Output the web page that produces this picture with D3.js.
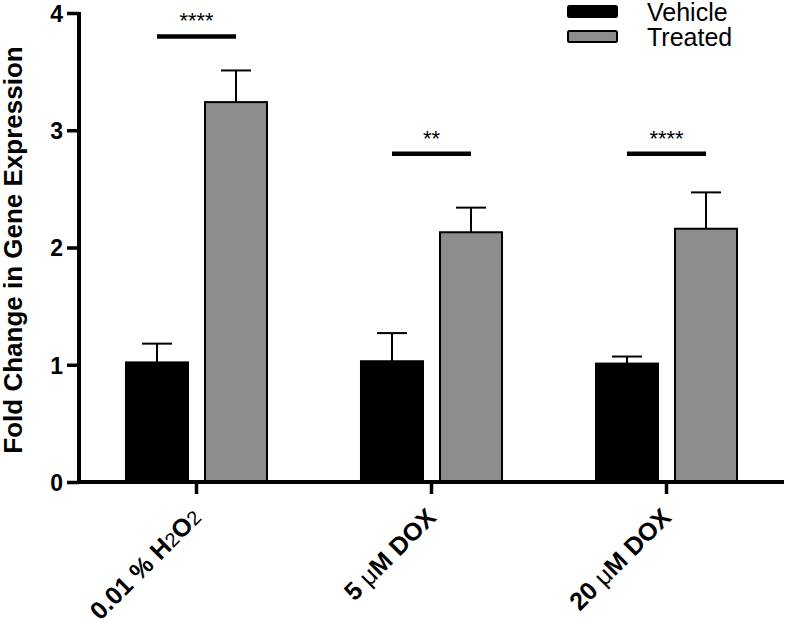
<!DOCTYPE html>
<html><head><meta charset="utf-8">
<script src="https://cdn.jsdelivr.net/npm/d3@7/dist/d3.min.js"></script>
<style>body{margin:0;background:#fff}svg{display:block;font-family:Arial,"Liberation Sans",sans-serif}</style>
</head><body><svg id="c" width="789" height="621"></svg>
<script>
const categories = ["0.01 % H2O2", "5 μM DOX", "20 μM DOX"];
const seriesNames = ["Vehicle", "Treated"];
const vehicleMean = [1.02, 1.03, 1.01];
const vehicleErr = [0.16, 0.24, 0.06];
const treatedMean = [3.24, 2.13, 2.16];
const treatedErr = [0.27, 0.21, 0.31];
const sigLabels = ["****", "**", "****"];
const sigLevel = [3.80, 2.80, 2.80];
const yTicks = [0, 1, 2, 3, 4];
const colors = ["#000000", "#8c8c8c"];

const svg = d3.select("#c");
const x0 = d3.scaleBand().domain(categories).range([79, 784]);
const x1 = d3.scaleBand().domain(seriesNames).range([0, x0.bandwidth()]).paddingInner(0.19).paddingOuter(0.582);
const y = d3.scaleLinear().domain([0, 4]).range([482, 13]);

const data = categories.map((c, i) => ({
  cat: c,
  vals: [
    {key: "Vehicle", mean: vehicleMean[i], err: vehicleErr[i]},
    {key: "Treated", mean: treatedMean[i], err: treatedErr[i]}
  ]
}));

const g = svg.selectAll("g.grp").data(data).join("g").attr("class", "grp")
  .attr("transform", d => `translate(${x0(d.cat)},0)`);

// error bars
g.selectAll("line.eb").data(d => d.vals).join("line").attr("class", "eb")
  .attr("x1", d => x1(d.key) + x1.bandwidth() / 2).attr("x2", d => x1(d.key) + x1.bandwidth() / 2)
  .attr("y1", d => y(d.mean)).attr("y2", d => y(d.mean + d.err))
  .attr("stroke", "#000").attr("stroke-width", 2);
g.selectAll("line.cap").data(d => d.vals).join("line").attr("class", "cap")
  .attr("x1", d => x1(d.key) + x1.bandwidth() / 2 - 15).attr("x2", d => x1(d.key) + x1.bandwidth() / 2 + 15)
  .attr("y1", d => y(d.mean + d.err)).attr("y2", d => y(d.mean + d.err))
  .attr("stroke", "#000").attr("stroke-width", 2);

g.selectAll("rect").data(d => d.vals).join("rect")
  .attr("x", d => x1(d.key) + 1).attr("width", x1.bandwidth() - 2)
  .attr("y", d => y(d.mean)).attr("height", d => y(0) - y(d.mean))
  .attr("fill", (d, i) => colors[i]).attr("stroke", "#000").attr("stroke-width", 2);

// significance
g.append("line")
  .attr("x1", x1("Vehicle") + x1.bandwidth() / 2).attr("x2", x1("Treated") + x1.bandwidth() / 2)
  .attr("y1", (d, i) => y(sigLevel[i])).attr("y2", (d, i) => y(sigLevel[i]))
  .attr("stroke", "#000").attr("stroke-width", 4.5);
g.append("text")
  .attr("x", x0.bandwidth() / 2).attr("y", (d, i) => y(sigLevel[i]) - 8)
  .attr("text-anchor", "middle").attr("font-size", 22).text((d, i) => sigLabels[i]);

// y axis
const yAxis = svg.append("g").attr("transform", "translate(79,0)")
  .call(d3.axisLeft(y).tickValues(yTicks).tickFormat(d3.format("d")).tickSize(12).tickSizeOuter(0));
yAxis.select(".domain").attr("stroke-width", 4).attr("d", `M0,${y(0)+2}V${y(4)-1}`);
yAxis.selectAll(".tick line").attr("stroke-width", 3.5);
yAxis.selectAll(".tick text").attr("font-size", 23).attr("font-weight", "bold").attr("x", -16).attr("dy", "0.36em")
  .attr("font-family", "Arial, 'Liberation Sans', sans-serif");

// x axis
const xAxis = svg.append("g").attr("transform", `translate(0,${y(0)})`)
  .call(d3.axisBottom(x0).tickSize(12).tickSizeOuter(0).tickFormat(""));
xAxis.select(".domain").attr("stroke-width", 4).attr("d", `M77,0H784`);
xAxis.selectAll(".tick line").attr("stroke-width", 3.5);

// x labels with subscript / symbol handling
const labParts = [
  [{t: "0.01 % H", b: true}, {t: "2", b: false, sub: true}, {t: "O", b: true}, {t: "2", b: false, sub: true}],
  [{t: "5 ", b: true}, {t: "μ", b: false}, {t: "M DOX", b: true}],
  [{t: "20 ", b: true}, {t: "μ", b: false}, {t: "M DOX", b: true}]
];
categories.forEach((c, i) => {
  const cx = x0(c) + x0.bandwidth() / 2;
  const t = svg.append("text")
    .attr("transform", `translate(${cx + 6},${y(0) + 37}) rotate(-45)`)
    .attr("text-anchor", "end").attr("font-size", 25);
  labParts[i].forEach(p => {
    t.append("tspan").text(p.t).attr("font-weight", p.b ? "bold" : "normal")
      .attr("font-size", p.sub ? 20 : 25);
  });
});

// y label
svg.append("text").attr("transform", `translate(22,250) rotate(-90)`)
  .attr("text-anchor", "middle").attr("font-size", 26).attr("font-weight", "bold")
  .text("Fold Change in Gene Expression");

// legend
const leg = svg.append("g").selectAll("g").data(seriesNames).join("g")
  .attr("transform", (d, i) => `translate(567,${6 + i * 25})`);
leg.append("rect").attr("x", 1).attr("y", 0).attr("width", 49).attr("height", 11).attr("rx", 1.5)
  .attr("fill", (d, i) => colors[i]).attr("stroke", "#000").attr("stroke-width", 2);
leg.append("text").attr("x", 80).attr("y", 15).attr("font-size", 25).text(d => d);
</script></body></html>
